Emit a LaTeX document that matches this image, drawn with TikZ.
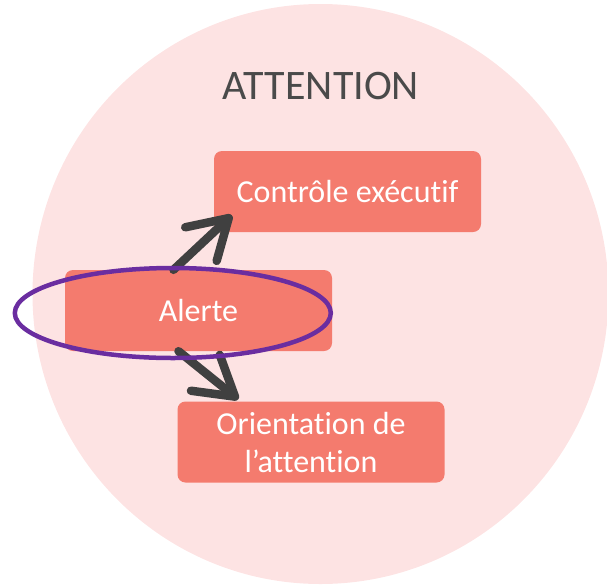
\documentclass[tikz,border=0pt]{standalone}
\usepackage{fontspec}
\setmainfont{Carlito}[Ligatures=NoCommon]
\usetikzlibrary{arrows.meta,shapes.geometric,calc}
\definecolor{bgpink}{RGB}{253,227,227}
\definecolor{salmon}{RGB}{244,123,110}
\definecolor{arrowgray}{RGB}{64,64,64}
\definecolor{titlegray}{RGB}{74,74,74}
\definecolor{ringpurple}{RGB}{106,45,160}
\tikzset{
  box/.style={fill=salmon, rounded corners=8pt, minimum width=267pt, minimum height=81pt,
    inner sep=0pt, text=white, align=center, font=\fontsize{32}{38}\selectfont},
  bigarrow/.style={draw=arrowgray, line width=8.5pt, line cap=round,
    -{Straight Barb[length=38pt, width=46pt, round]}},
  ring/.style={draw=ringpurple, line width=4.5pt, ellipse, minimum width=316pt,
    minimum height=90pt, inner sep=0pt},
}
\begin{document}
\begin{tikzpicture}[x=1pt, y=-1pt]
\useasboundingbox (0,0) rectangle (607,584);
\clip (0,0) rectangle (607,584);
\fill[bgpink] (320.5,294) ellipse [x radius=288pt, y radius=290pt];
\node[text=titlegray, font=\fontsize{42}{50}\selectfont, inner sep=0pt] (title) at (321,86) {ATTENTION};
\node[box] (C) at (347.5,191.5) {Contrôle exécutif};
\node[box] (A) at (198.5,310.5) {Alerte};
\node[box] (O) at (311,442) {Orientation de\\l’attention};
\draw[bigarrow] ([xshift=-25pt]A.north) -- ([xshift=18pt,yshift=17pt]C.south west);
\draw[bigarrow] ([xshift=-20pt]A.south) -- ([xshift=61pt,yshift=2pt]O.north west);
\node[ring] (R) at (172.8,313) {};
\end{tikzpicture}
\end{document}
